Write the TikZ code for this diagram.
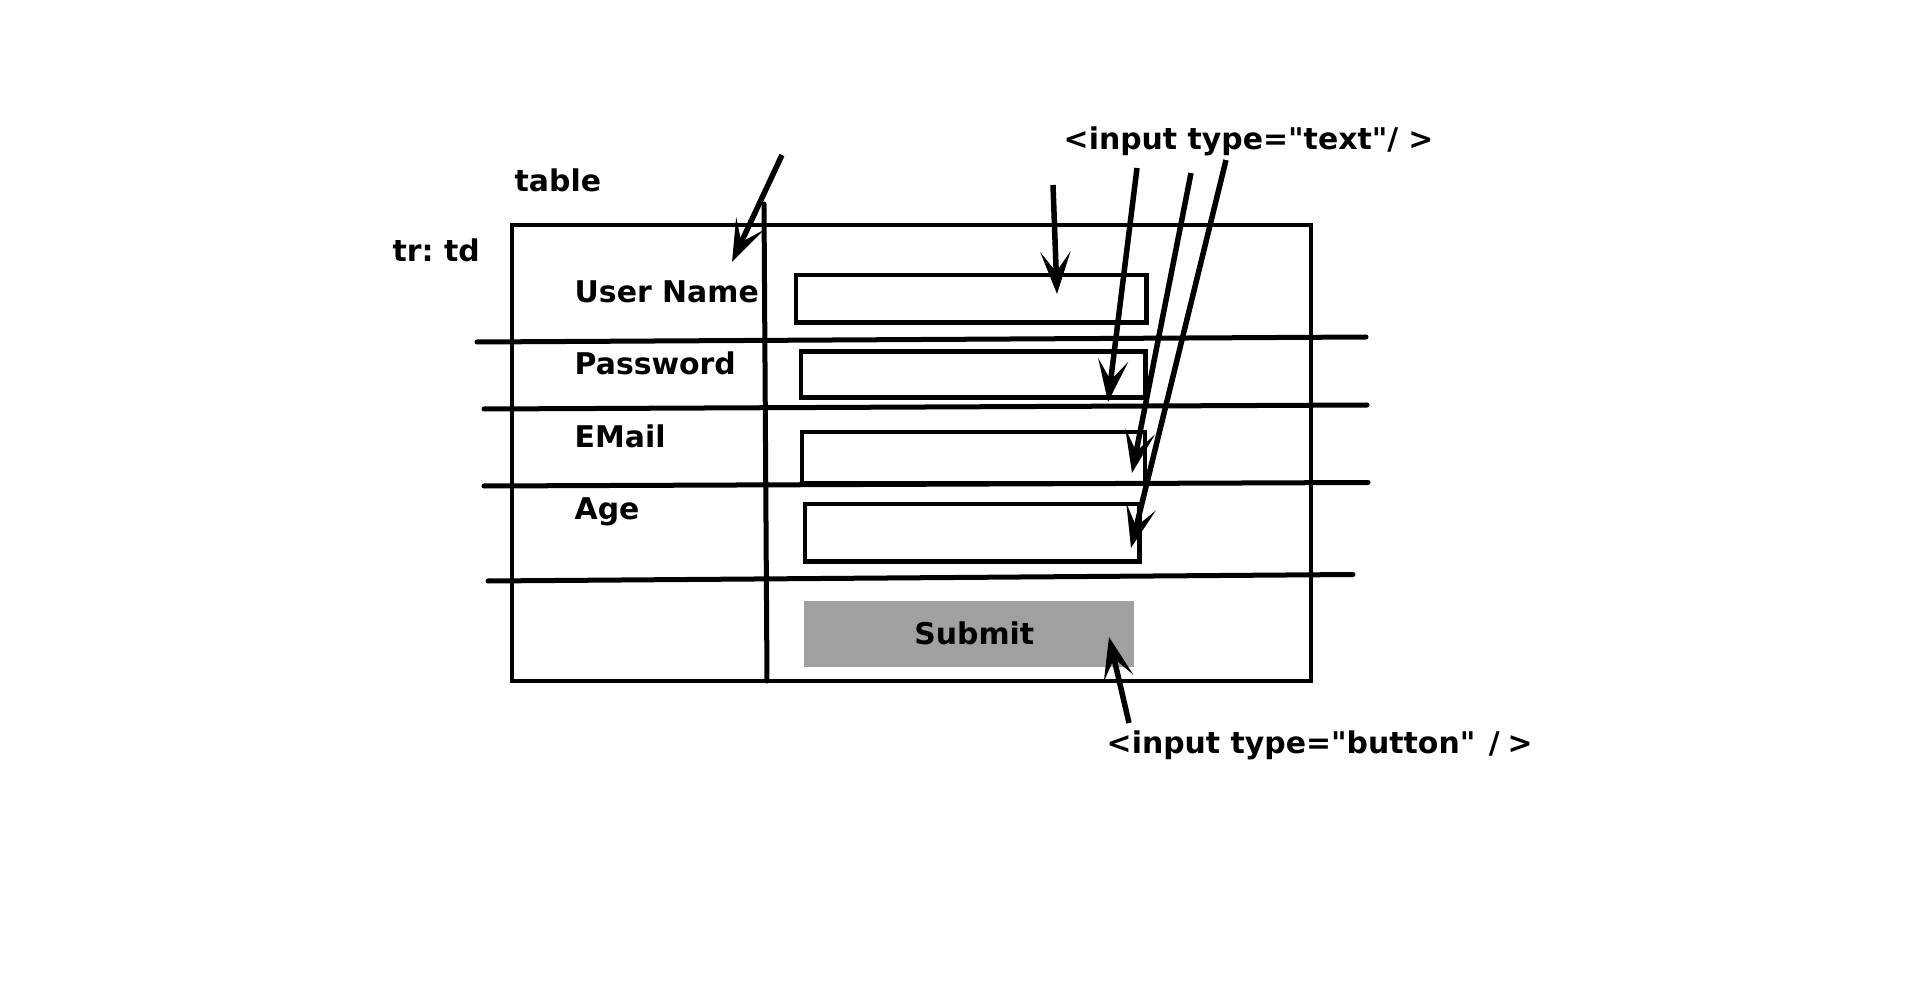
\documentclass[tikz,border=0pt]{standalone}
\usepackage{fontspec}
\setmainfont{DejaVu Sans}[Ligatures=TeXOff]
\frenchspacing
\usetikzlibrary{arrows.meta}
\definecolor{btngray}{HTML}{A0A0A0}

\begin{document}
\begin{tikzpicture}[x=0.01cm, y=-0.01cm,
  lbl/.style={anchor=base west, inner sep=0pt, font=\fontsize{8.5pt}{10pt}\selectfont\bfseries},
  field/.style={rectangle, draw, line width=0.045cm, inner sep=0pt},
  button/.style={rectangle, fill=btngray, inner sep=0pt, font=\fontsize{8.5pt}{10pt}\selectfont\bfseries},
  frame/.style={line width=0.045cm},
  rule/.style={line width=0.05cm, line cap=round},
  edge/.style={-{Stealth[length=0.42cm, width=0.30cm, inset=0.20cm]}, line width=0.055cm}
]
\useasboundingbox (0,0) rectangle (1920,991);
% table frame and rows
\draw[frame] (512,225) rectangle (1311,681);
\draw[rule] (764,204) -- (767,681);
\draw[rule] (477,342) -- (1366,337);
\draw[rule] (484,409) -- (1367,405);
\draw[rule] (484,486) -- (1368,482.5);
\draw[rule] (488,581) -- (1353,574.5);
% labels
\node[lbl] (table) at (514,192) {table};
\node[lbl] (trtd) at (392,262) {tr: td};
\node[lbl] (luser) at (574,303) {User Name};
\node[lbl] (lpass) at (574,375) {Password};
\node[lbl] (lmail) at (574,448) {EMail};
\node[lbl] (lage) at (574,519) {Age};
\node[lbl] (ltext) at (1063,150) {<input type="text"/\kern0.1cm>};
\node[lbl] (lbutton) at (1106,753.5) {<input type="button" \kern0.03cm/\kern0.08cm>};
% fields
\node[field, minimum width=3.505cm, minimum height=0.475cm] (fuser) at (971.25,298.75) {};
\node[field, minimum width=3.445cm, minimum height=0.46cm] (fpass) at (973.25,374.5) {};
\node[field, minimum width=3.43cm, minimum height=0.51cm] (fmail) at (973.5,457.5) {};
\node[field, minimum width=3.345cm, minimum height=0.575cm] (fage) at (972.25,532.75) {};
\node[button, minimum width=3.295cm, minimum height=0.655cm] (submit) at (969.25,633.75) {\hspace{0.1cm}Submit};
% arrows
\coordinate (tTable) at (782,155);   \coordinate (hTable) at (732,262);
\coordinate (tUser) at (1053,185);   \coordinate (hUser) at (1057,294);
\coordinate (tPass) at (1137,168);   \coordinate (hPass) at (1108,402);
\coordinate (tMail) at (1191,173);   \coordinate (hMail) at (1132,473);
\coordinate (tAge) at (1226,160);    \coordinate (hAge) at (1131,548);
\coordinate (tSubmit) at (1129,723); \coordinate (hSubmit) at (1109,637);
\draw[edge] (tTable) -- (hTable);
\draw[edge] (tUser) -- (hUser);
\draw[edge] (tPass) -- (hPass);
\draw[edge] (tMail) -- (hMail);
\draw[edge] (tAge) -- (hAge);
\draw[edge] (tSubmit) -- (hSubmit);
\end{tikzpicture}
\end{document}
